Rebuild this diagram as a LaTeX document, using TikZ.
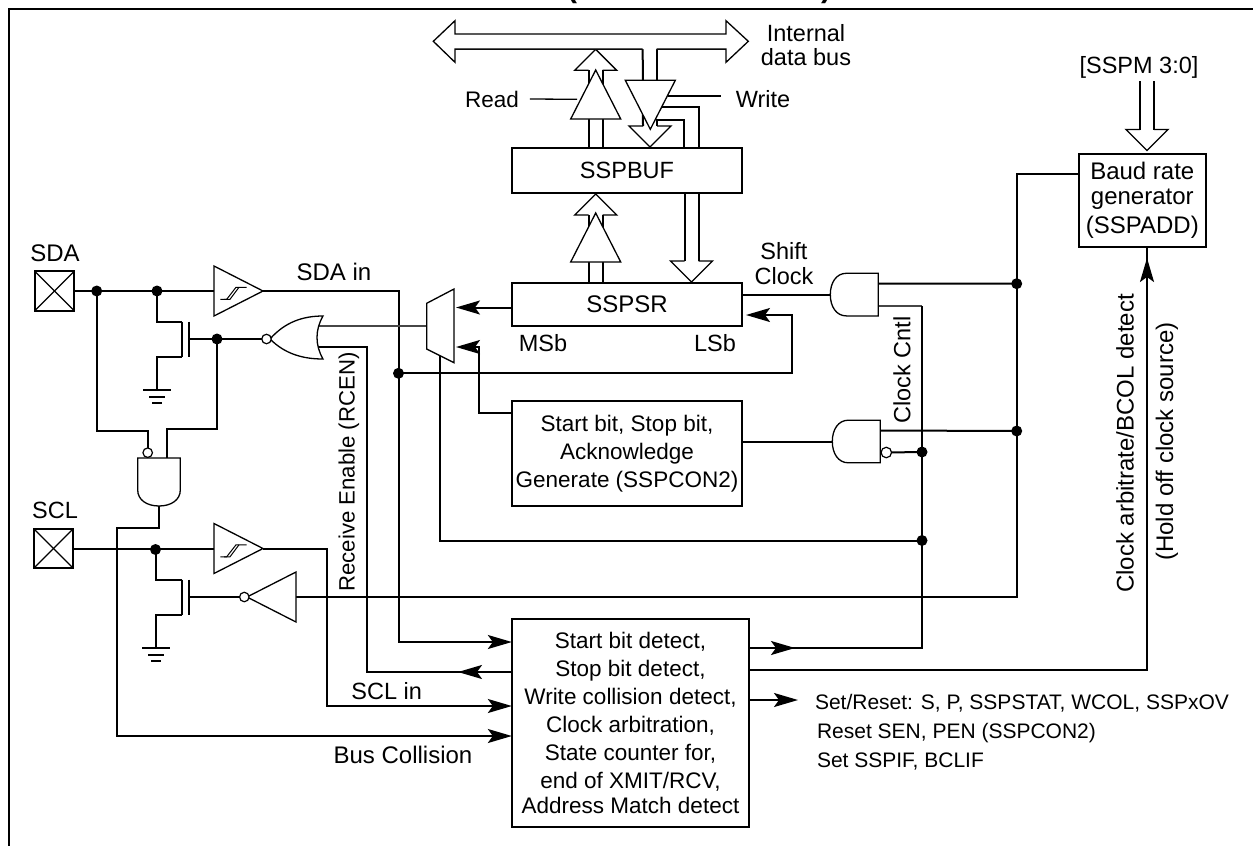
\documentclass[tikz,border=0pt]{standalone}
\usepackage{fontspec}
\setmainfont{Liberation Sans}
\usetikzlibrary{
	positioning,
	arrows.meta,
	backgrounds
}
\definecolor{WireGray}{RGB}{70,70,70}
\tikzset{
	every node/.append style={font=\fontsize{23.5}{28}\selectfont,inner sep=0pt,outer sep=0pt},
	wire/.style={line width=2pt,line join=miter},
	thinwire/.style={line width=1.8pt,WireGray},
	signal/.style={wire,-{Stealth[length=24pt,width=14pt,inset=5pt]}},
	gate/.style={line width=1.3pt,fill=white,line join=miter},
	blockbox/.style={draw,line width=2.3pt,fill=white,align=center},
	smalltext/.style={font=\fontsize{22.5}{28}\selectfont},
	bigtext/.style={font=\fontsize{24}{28}\selectfont},
	flagtext/.style={font=\fontsize{21}{24}\selectfont,anchor=base west},
	titletext/.style={font=\fontsize{30}{30}\bfseries\selectfont,anchor=base},
	junction/.style={circle,fill=black,minimum size=11pt},
	bubble/.style={circle,draw,line width=1.2pt,fill=white,minimum size=9.5pt},
	tribuf/.pic={
		\draw[gate] (-25,-49) -- (25,-49) -- (0,0) -- cycle;
		\coordinate (-l) at (-7,-49);
		\coordinate (-r) at (7,-49);
		\coordinate (-m) at (0,-49);
		\coordinate (-a) at (0,0);
	},
	openhead/.pic={
		\draw[gate,fill=none] (-7,-21) -- (-21,-21) -- (0,0) -- (21,-21) -- (7,-21);
		\coordinate (-l) at (-7,-21);
		\coordinate (-r) at (7,-21);
	},
	andgate/.pic={
		\draw[gate] (-32,-21.3) .. controls (-42,-21.3) and (-48,-12) .. (-48,0) .. controls (-48,12) and (-42,21.3) .. (-32,21.3) -- (0,21.3) -- (0,-21.3) -- cycle;
		\coordinate (-a) at (0,-11);
		\coordinate (-b) at (0,11);
		\coordinate (-c) at (-48,0);
	},
	fet/.pic={
		\draw[wire] (0,-17.5) -- (0,17.5);
		\draw[wire] (7,-17.5) -- (7,17.5);
		\coordinate (-d) at (0,-17.5);
		\coordinate (-s) at (0,17.5);
		\coordinate (-g) at (7,0);
	},
	gnd/.pic={
		\draw[wire] (-14,0) -- (14,0);
		\draw[wire] (-8,6.5) -- (8,6.5);
		\draw[wire] (-5,13) -- (5,13);
	},
	hyst/.pic={
		\draw[line width=1pt] (5.3,8.3) -- (11.7,8.3) -- (21,-3.7) -- (31.7,-3.7);
		\draw[line width=1pt] (9,8.3) -- (15,8.3) -- (24,-3.7);
	}
}
\begin{document}
\begin{tikzpicture}[x=1pt,y=-1pt]
	
	\useasboundingbox (0,0) rectangle (1253,846);
	\draw[line width=2.5pt] (9,846) -- (9,9) -- (1253,9);
	
	\node[titletext] (TitleOpen) at (572,-3) {(};
	\node[titletext] (TitleClose) at (826,-3) {)};
	
	\node[
	blockbox,
	minimum width=230pt,
	minimum height=44.4pt
	] (SSPBUF) at (627,170.5) {SSPBUF};
	
	\node[
	blockbox,
	bigtext,
	below=90.6pt of SSPBUF,
	minimum width=230pt,
	minimum height=42.4pt
	] (SSPSR) {SSPSR};
	
	\node[
	blockbox,
	smalltext,
	below=75.6pt of SSPSR,
	minimum width=230pt,
	minimum height=104.4pt
	] (StartStop) {Start bit, Stop bit,\\Acknowledge\\Generate (SSPCON2)};
	
	\node[
	blockbox,
	smalltext,
	below=113.3pt of StartStop,
	xshift=3.5pt,
	minimum width=237.3pt,
	minimum height=207.7pt
	] (Detect) {Start bit detect,\\Stop bit detect,\\Write collision detect,\\Clock arbitration,\\State counter for,\\end of XMIT/RCV,\\[-3pt]Address Match detect};
	
	\node[
	blockbox,
	bigtext,
	minimum width=126.7pt,
	minimum height=92.7pt
	] (Baud) at (1142.3,200.3) {Baud rate\\[-3pt]generator\\[1pt](SSPADD)};
	
	\node[blockbox,line width=2pt,minimum size=39.5pt] (SDApad) at (54.5,291) {};
	\node[blockbox,line width=2pt,minimum size=39.5pt] (SCLpad) at (53.5,548.5) {};
	\foreach \pad in {SDApad,SCLpad} {
		\draw[line width=1.3pt] (\pad.north west) -- (\pad.south east);
		\draw[line width=1.3pt] (\pad.north east) -- (\pad.south west);
	}
	
	\node[bigtext] (SDAlabel) at (55,253) {SDA};
	\node (SCLlabel) at (55,510) {SCL};
	\node[bigtext] (SDAin) at (334,272) {SDA in};
	\node (SCLin) at (386.7,691) {SCL in};
	\node[bigtext] (BusCollision) at (403,755) {Bus Collision};
	\node[smalltext] (ReadLabel) at (492,99) {Read};
	\node (WriteLabel) at (763,99) {Write};
	\node[align=center] (DataBus) at (806,45) {Internal\\[-4pt]data bus};
	\node (SSPM) at (1139,67) {[SSPM 3:0]};
	\node[align=center] (ShiftClock) at (784,263.5) {Shift\\[-3pt]Clock};
	\node (MSb) at (543,343) {MSb};
	\node (LSb) at (715,343) {LSb};
	\node[rotate=90,font=\fontsize{22.2}{28}\selectfont] (RCEN) at (349,472) {Receive Enable (RCEN)};
	\node[rotate=90] (ClockCntl) at (902,370) {Clock Cntl};
	\node[rotate=90,bigtext] (Arbitrate) at (1125,443.5) {Clock arbitrate/BCOL detect};
	\node[rotate=90,bigtext] (HoldOff) at (1167,441.5) {(Hold off clock source)};
	\node[flagtext] (SetReset) at (815,709) {Set/Reset: S, P, SSPSTAT, WCOL, SSPxOV};
	\node[flagtext] (ResetSEN) at (817,738) {Reset SEN, PEN (SSPCON2)};
	\node[flagtext] (SetSSPIF) at (817,767) {Set SSPIF, BCLIF};
	
	\pic (SDAtrig) at (263,291) [rotate=90] {tribuf};
	\pic (SCLtrig) at (263,548.5) [rotate=90] {tribuf};
	\pic at (215,291) {hyst};
	\pic at (215,548.5) {hyst};
	\pic (SCLnot) at (247,597) [rotate=-90] {tribuf};
	\pic (ReadBuf) at (595.7,70) [rotate=180] {tribuf};
	\pic (ShiftBuf) at (595.7,213) [rotate=180] {tribuf};
	\pic (WriteBuf) at (650.3,129.3) {tribuf};
	\pic (ReadHead) at (595.7,49.3) [rotate=180] {openhead};
	\pic (ShiftHead) at (595.7,194) [rotate=180] {openhead};
	\pic (WriteHead) at (650,147) {openhead};
	\pic (LoadHead) at (691.5,282) {openhead};
	\pic (SSPMHead) at (1147,150.5) {openhead};
	
	\pic (ClockGate) at (878.3,294.6) {andgate};
	\pic (StartGate) at (880.3,441.5) {andgate};
	\pic (BusGate) at (159,458) [rotate=90] {andgate};
	\pic (SDAfet) at (181.7,339) {fet};
	\pic (SCLfet) at (181.7,597) {fet};
	\pic at (157,390) {gnd};
	\pic at (156,648) {gnd};
	
	\draw[gate] (642.7,49) -- (455,49) -- (455,62.3) -- (433.3,41.3) -- (455,20.7) -- (455,34) -- (726,34) -- (726,20.7) -- (748.3,41.3) -- (726,62.3) -- (726,49) -- (656.7,49);
	\coordinate (BusLeft) at (642.7,49);
	\coordinate (BusRight) at (656.7,49);
	
	\draw[gate] (426.7,303.3) -- (454,289) -- (454,362.7) -- (426.7,349) -- cycle;
	\draw[gate] (270,339) .. controls (285,322) and (303,316) .. (323,316) .. controls (315,330) and (315,345) .. (323,359) .. controls (303,359) and (285,354) .. cycle;
	
	\node[bubble] (SDAbubble) at (266.5,339) {};
	\node[bubble] (SCLbubble) at (244.3,597) {};
	\node[bubble] (BusBubble) at (147.7,452.7) {};
	\node[bubble,minimum size=10.5pt] (StartBubble) at (886.3,452.5) {};
	
	\node[junction] (SDAnode) at (96.7,291) {};
	\node[junction] (FetNode) at (157,291) {};
	\node[junction] (GateNode) at (217,339) {};
	\node[junction] (SCLnode) at (155.5,549.5) {};
	\node[junction] (InNode) at (398.5,373.3) {};
	\node[junction] (ClockNode) at (1016.7,283.7) {};
	\node[junction] (StartNode) at (1016.7,431) {};
	\node[junction] (CntlNode) at (922,452) {};
	\node[junction] (MuxNode) at (922,540.5) {};
	
	\begin{scope}[on background layer]
		\draw[wire] (SDApad) -- (SDAtrig-m);
		\draw[wire] (SCLpad) -- (SCLtrig-m);
		\draw[wire] (FetNode.center) |- (SDAfet-d);
		\draw[wire] (SDAfet-s) -| (157,390);
		\draw[wire] (SCLnode.center) |- (SCLfet-d);
		\draw[wire] (SCLfet-s) -| (156,648);
		\draw[wire] (SDAbubble) -- (SDAfet-g);
		\draw[wire] (SCLbubble) -- (SCLfet-g);
		\draw[wire] (SDAnode.center) |- (147.7,431) -- (BusBubble);
		\draw[wire] (GateNode.center) |- (166.7,429) -- (166.7,458);
		\draw[signal] (BusGate-c) |- (117,528) |- (Detect.west |- 0,736);
		\draw[signal] (SDAtrig-a) -| (InNode.center) |- (Detect.west |- 0,642);
		\draw[signal] (InNode.center) -- (792,373.3) |- (746,315);
		\draw[signal] (SCLtrig-a) -| (327,706) -- (Detect.west |- 0,706);
		\draw[wire] (316.7,347.3) -| (367,672) -- (Detect.west |- 0,672);
		\draw[signal] (Detect.west |- 0,672) -- (458,672);
		\draw[thinwire] (318.3,325.7) -- (426.7,325.7);
		\draw[signal] (SSPSR.west |- 0,307.5) -- (456,307.5);
		\draw[signal] (StartStop.west |- 0,412.7) -| (479,347) -- (456,347);
		\draw[wire] (440,355) |- (MuxNode.center);
		\draw[wire] (SSPSR.east |- ClockGate-c) -- (ClockGate-c);
		\draw[wire] (StartStop.east |- StartGate-c) -- (StartGate-c);
		\draw[wire] (ClockGate-a) -- (ClockNode.center);
		\draw[wire] (StartGate-a) -- (StartNode.center);
		\draw[thinwire] (ClockGate-b) -- (922,305.6);
		\draw[wire] (Detect.east |- 0,648) -| (922,305.6);
		\draw[signal] (Detect.east |- 0,648) -- (795,648);
		\draw[wire] (StartBubble) -- (CntlNode.center);
		\draw[wire] (SCLnot-m) -| (ClockNode.center) |- (Baud.west |- 0,174);
		\draw[wire] (745,670) -| (Baud.south -| 1147,0);
		\draw[signal] (1147,300) -- (1147,258);
		\draw[signal] (Detect.east |- 0,700) -- (798,700);
		\draw[line width=1.3pt] (ReadLabel.east) ++(11,0) -- (577,99.3);
		\draw[line width=1.3pt] (668,96) -- (720.7,96);
		\draw[wire] (ReadBuf-l) -- (ReadBuf-l |- SSPBUF.north);
		\draw[wire] (ReadBuf-r) -- (ReadBuf-r |- SSPBUF.north);
		\draw[wire] (ReadHead-l) -- (ReadHead-l |- ReadBuf-m);
		\draw[wire] (ReadHead-r) -- (ReadHead-r |- ReadBuf-m);
		\draw[wire] (ShiftBuf-l) -- (ShiftBuf-l |- SSPSR.north);
		\draw[wire] (ShiftBuf-r) -- (ShiftBuf-r |- SSPSR.north);
		\draw[wire] (ShiftHead-l) -- (ShiftHead-l |- ShiftBuf-m);
		\draw[wire] (ShiftHead-r) -- (ShiftHead-r |- ShiftBuf-m);
		\draw[wire] (BusLeft) -- (455,49);
		\draw[wire] (BusRight) -- (726,49);
		\draw[wire] (BusLeft) -- (WriteHead-l);
		\draw[wire] (BusRight) -- (656.7,80);
		\draw[wire] (WriteHead-r) -- (657,120) -| (684.3,148.3);
		\draw[wire] (650,106.7) -| (698.7,148.3);
		\draw[wire] (LoadHead-l) -- (LoadHead-l |- SSPBUF.south);
		\draw[wire] (LoadHead-r) -- (LoadHead-r |- SSPBUF.south);
		\draw[wire] (SSPMHead-l) -- (SSPMHead-l |- 0,81);
		\draw[wire] (SSPMHead-r) -- (SSPMHead-r |- 0,81);
	\end{scope}
	
\end{tikzpicture}
\end{document}
